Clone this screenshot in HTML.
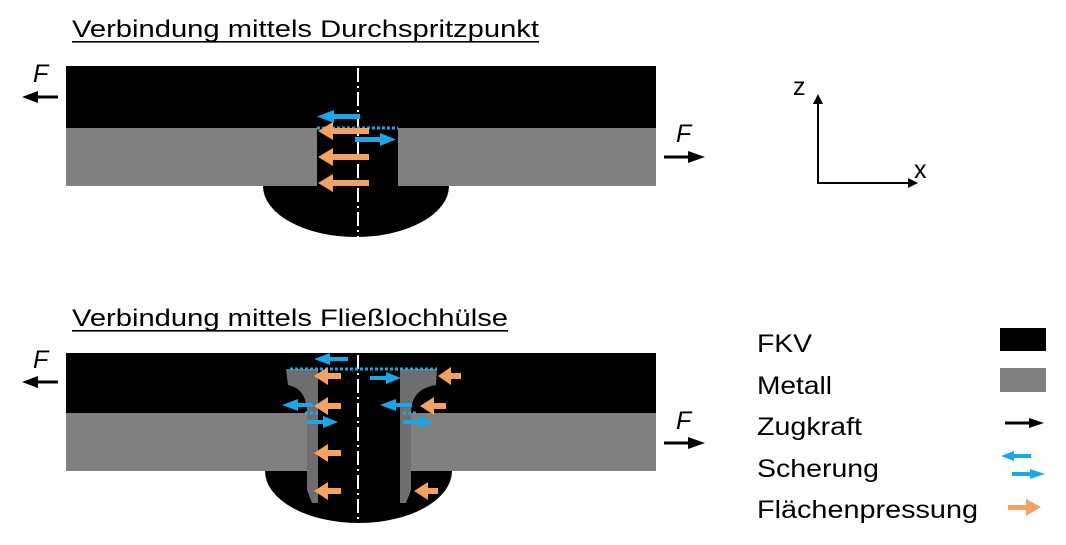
<!DOCTYPE html>
<html><head><meta charset="utf-8"><style>
html,body{margin:0;padding:0;background:#fff;}
svg{display:block;font-family:"Liberation Sans",sans-serif;}
</style></head><body>
<svg width="1066" height="545" viewBox="0 0 1066 545">
<!-- Titles -->
<text x="72" y="37" font-size="24" textLength="467" lengthAdjust="spacingAndGlyphs">Verbindung mittels Durchspritzpunkt</text>
<rect x="72" y="41" width="467" height="1.6" fill="#000"/>
<text x="72" y="326" font-size="24" textLength="436" lengthAdjust="spacingAndGlyphs">Verbindung mittels Fließlochhülse</text>
<rect x="72" y="330" width="436" height="1.6" fill="#000"/>

<!-- TOP DIAGRAM -->
<path d="M263,186 A93,51 0 0 0 449,186 Z" fill="#000"/>
<rect x="66" y="66" width="590" height="62" fill="#000"/>
<rect x="66" y="128" width="251" height="58" fill="#808080"/>
<rect x="398" y="128" width="258" height="58" fill="#808080"/>
<rect x="317" y="128" width="81" height="58" fill="#000"/>
<line x1="358" y1="68" x2="358" y2="240" stroke="#fff" stroke-width="2" stroke-dasharray="14,4,2,4"/>
<line x1="317" y1="128" x2="398" y2="128" stroke="#1aa7e8" stroke-width="3" stroke-dasharray="3,2"/>
<rect x="332" y="114" width="28" height="5" fill="#1aa7e8"/><polygon points="317,116.5 334,110 334,123" fill="#1aa7e8"/>
<rect x="355" y="137" width="28" height="5" fill="#1aa7e8"/><polygon points="396,139.5 380,133 380,146" fill="#1aa7e8"/>
<g fill="#f4a261">
<rect x="330" y="128" width="39" height="6"/><polygon points="318,131 333,122 333,140"/>
<rect x="330" y="154" width="39" height="6"/><polygon points="318,157 333,148 333,166"/>
<rect x="330" y="180" width="39" height="6"/><polygon points="318,183 333,174 333,192"/>
</g>
<text x="33" y="82" font-size="25" font-style="italic">F</text>
<rect x="36" y="95.5" width="22" height="3" fill="#000"/><polygon points="22,97 38,91 38,103" fill="#000"/>
<text x="676" y="142" font-size="25" font-style="italic">F</text>
<rect x="664" y="155.5" width="26" height="3" fill="#000"/><polygon points="705,157 688,151 688,163" fill="#000"/>

<!-- axes -->
<text x="793" y="95" font-size="25">z</text>
<text x="914" y="178" font-size="25">x</text>
<rect x="817" y="100" width="2" height="84" fill="#000"/>
<polygon points="818,94 813,104 823,104" fill="#000"/>
<rect x="817" y="182" width="94" height="2" fill="#000"/>
<polygon points="918,183 908,178 908,188" fill="#000"/>

<!-- BOTTOM DIAGRAM -->
<path d="M265,471 A93.5,52 0 0 0 452,471 Z" fill="#000"/>
<rect x="66" y="353" width="590" height="60" fill="#000"/>
<rect x="66" y="413" width="241" height="58" fill="#808080"/>
<rect x="411" y="413" width="245" height="58" fill="#808080"/>
<rect x="307" y="413" width="104" height="58" fill="#000"/>
<path d="M286,369 L318,369 L318,503 L312,503 L307,490 L307,415 C307,395 300,388 288,385 Z" fill="#6e6e6e"/>
<path d="M437,369 L400,369 L400,503 L406,503 L411,490 L411,415 C411,395 420,388 436,385 Z" fill="#6e6e6e"/>
<line x1="358" y1="355" x2="358" y2="525" stroke="#fff" stroke-width="2" stroke-dasharray="14,4,2,4"/>
<line x1="290" y1="369" x2="437" y2="369" stroke="#1aa7e8" stroke-width="3" stroke-dasharray="3,2"/>
<line x1="305" y1="413" x2="318" y2="413" stroke="#1aa7e8" stroke-width="3" stroke-dasharray="3,2"/>
<line x1="403" y1="413" x2="418" y2="413" stroke="#1aa7e8" stroke-width="3" stroke-dasharray="3,2"/>
<g fill="#1aa7e8">
<rect x="328" y="357" width="20" height="4"/><polygon points="314,359 330,353 330,365"/>
<rect x="370" y="376" width="18" height="4"/><polygon points="401,378 386,372 386,384"/>
<rect x="296" y="403" width="17" height="4"/><polygon points="282,405 298,399 298,411"/>
<rect x="394" y="403" width="18" height="4"/><polygon points="380,405 396,399 396,411"/>
<rect x="307" y="420" width="18" height="4"/><polygon points="338,422 323,416 323,428"/>
<rect x="403" y="420" width="18" height="4"/><polygon points="434,422 419,416 419,428"/>
</g>
<g fill="#f4a261">
<rect x="326" y="373" width="15" height="6"/><polygon points="314,376 328,367 328,385"/>
<rect x="326" y="403" width="15" height="6"/><polygon points="314,406 328,397 328,415"/>
<rect x="326" y="450" width="15" height="6"/><polygon points="314,453 328,444 328,462"/>
<rect x="326" y="488" width="15" height="6"/><polygon points="314,491 328,482 328,500"/>
<rect x="449" y="373" width="12" height="6"/><polygon points="438,376 451,367 451,385"/>
<rect x="432" y="403" width="14" height="6"/><polygon points="420,406 434,397 434,415"/>
<rect x="426" y="488" width="12" height="6"/><polygon points="414,491 428,482 428,500"/>
</g>
<text x="33" y="368" font-size="25" font-style="italic">F</text>
<rect x="36" y="380.5" width="22" height="3" fill="#000"/><polygon points="22,382 38,376 38,388" fill="#000"/>
<text x="676" y="429" font-size="25" font-style="italic">F</text>
<rect x="664" y="441.5" width="26" height="3" fill="#000"/><polygon points="705,443 688,437 688,449" fill="#000"/>

<!-- Legend -->
<text x="757" y="352" font-size="25" textLength="55" lengthAdjust="spacingAndGlyphs">FKV</text>
<text x="757" y="394" font-size="25" textLength="75" lengthAdjust="spacingAndGlyphs">Metall</text>
<text x="757" y="435" font-size="25" textLength="105" lengthAdjust="spacingAndGlyphs">Zugkraft</text>
<text x="757" y="477" font-size="25" textLength="122" lengthAdjust="spacingAndGlyphs">Scherung</text>
<text x="757" y="518" font-size="25" textLength="221" lengthAdjust="spacingAndGlyphs">Flächenpressung</text>
<rect x="1000" y="328" width="46" height="23" fill="#000"/>
<rect x="1000" y="368" width="46" height="24" fill="#808080"/>
<rect x="1005" y="421.5" width="26" height="3" fill="#000"/><polygon points="1044,423 1029,418 1029,428" fill="#000"/>
<rect x="1011" y="454" width="20" height="4" fill="#1aa7e8"/><polygon points="1001,456 1014,451 1014,461" fill="#1aa7e8"/>
<rect x="1012" y="472" width="20" height="4" fill="#1aa7e8"/><polygon points="1045,474 1030,469 1030,479" fill="#1aa7e8"/>
<rect x="1008" y="505" width="20" height="5" fill="#f4a261"/><polygon points="1041,507 1026,499 1026,516" fill="#f4a261"/>
</svg>
</body></html>
